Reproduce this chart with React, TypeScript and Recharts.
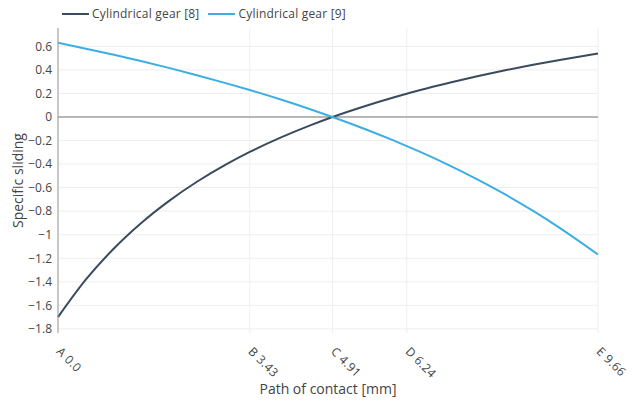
import React from "react";
import { LineChart, Line, XAxis, YAxis, CartesianGrid, ReferenceLine } from "recharts";

// path of contact positions [mm]
const pathPos = [0, 0.5, 1, 1.5, 2, 2.5, 3, 3.43, 4, 4.5, 4.91, 5.5, 6, 6.24, 6.5, 7, 7.5, 8, 8.5, 9, 9.66];

const gear8 = [-1.7, -1.38, -1.117, -0.896, -0.708, -0.546, -0.405, -0.297, -0.171, -0.073, 0, 0.094, 0.166, 0.198, 0.232, 0.291, 0.346, 0.397, 0.444, 0.487, 0.54];
const gear9 = [0.63, 0.58, 0.528, 0.473, 0.415, 0.353, 0.288, 0.229, 0.146, 0.068, 0, -0.104, -0.199, -0.247, -0.301, -0.411, -0.53, -0.658, -0.798, -0.95, -1.168];

const xTicks = [0, 3.43, 4.91, 6.24, 9.66];
const xTickNames = ["A 0.0", "B 3.43", "C 4.91", "D 6.24", "E 9.66"];
const yTicks = [-1.8, -1.6, -1.4, -1.2, -1, -0.8, -0.6, -0.4, -0.2, 0, 0.2, 0.4, 0.6];

const data = pathPos.map((x, i) => ({ x, g8: gear8[i], g9: gear9[i] }));

const FONT = "'Open Sans', sans-serif";
const TEXT = "#444";

const fmtY = (v: number) => {
  const s = String(Math.round(v * 10) / 10);
  return s.startsWith("-") ? "\u2212" + s.slice(1) : s;
};

function XTick(props: any) {
  const { x, y, payload } = props;
  const idx = xTicks.indexOf(payload.value);
  const tx = x + 1;
  const ty = y + 8;
  return (
    <text
      x={tx}
      y={ty}
      transform={`rotate(45, ${tx}, ${ty})`}
      fill={TEXT}
      fontSize={12}
      fontFamily={FONT}
      textAnchor="start"
      dominantBaseline="central"
      letterSpacing={0.3}
    >
      {xTickNames[idx]}
    </text>
  );
}

function LegendBox() {
  const items = [
    { name: "Cylindrical gear [8]", color: "#3b4b5e" },
    { name: "Cylindrical gear [9]", color: "#3daee2" },
  ];
  return (
    <div style={{ position: "absolute", top: 5, left: 62, display: "flex", fontFamily: FONT, fontSize: 12, color: TEXT, letterSpacing: 0.2 }}>
      {items.map((it) => (
        <div key={it.name} style={{ display: "flex", alignItems: "center", marginRight: 9 }}>
          <svg width={28} height={10}>
            <line x1={0} x2={27} y1={5} y2={5} stroke={it.color} strokeWidth={2} />
          </svg>
          <span style={{ marginLeft: 2 }}>{it.name}</span>
        </div>
      ))}
    </div>
  );
}

export default function App() {
  return (
    <div style={{ position: "absolute", left: 0, top: 0, width: 638, height: 403, background: "#fff" }}>
      <LineChart width={638} height={403} data={data} margin={{ top: 28, right: 40, left: 0, bottom: 0 }}>
        <CartesianGrid stroke="#eeeeee" verticalValues={xTicks} horizontalValues={yTicks} />
        <XAxis
          dataKey="x"
          type="number"
          domain={[0, 9.66]}
          ticks={xTicks}
          tick={<XTick />}
          axisLine={false}
          tickLine={false}
          height={70}
          label={{ value: "Path of contact [mm]", position: "insideBottom", offset: 9, fill: TEXT, fontSize: 14, fontFamily: FONT }}
        />
        <YAxis
          type="number"
          domain={[-1.835, 0.756]}
          ticks={yTicks}
          tickFormatter={fmtY}
          width={58}
          axisLine={{ stroke: "#999", strokeWidth: 1 }}
          tickLine={false}
          tick={{ fill: TEXT, fontSize: 12, fontFamily: FONT }}
          tickMargin={0}
          allowDataOverflow
          label={{ value: "Specific sliding", angle: -90, position: "insideLeft", offset: 18, fill: TEXT, fontSize: 14, fontFamily: FONT, style: { textAnchor: "middle" } }}
        />
        <ReferenceLine y={0} stroke="#777" strokeWidth={1} />
        <Line type="monotone" dataKey="g8" stroke="#3b4b5e" strokeWidth={2} dot={false} isAnimationActive={false} name="Cylindrical gear [8]" />
        <Line type="monotone" dataKey="g9" stroke="#3daee2" strokeWidth={2} dot={false} isAnimationActive={false} name="Cylindrical gear [9]" />
      </LineChart>
      <LegendBox />
    </div>
  );
}
